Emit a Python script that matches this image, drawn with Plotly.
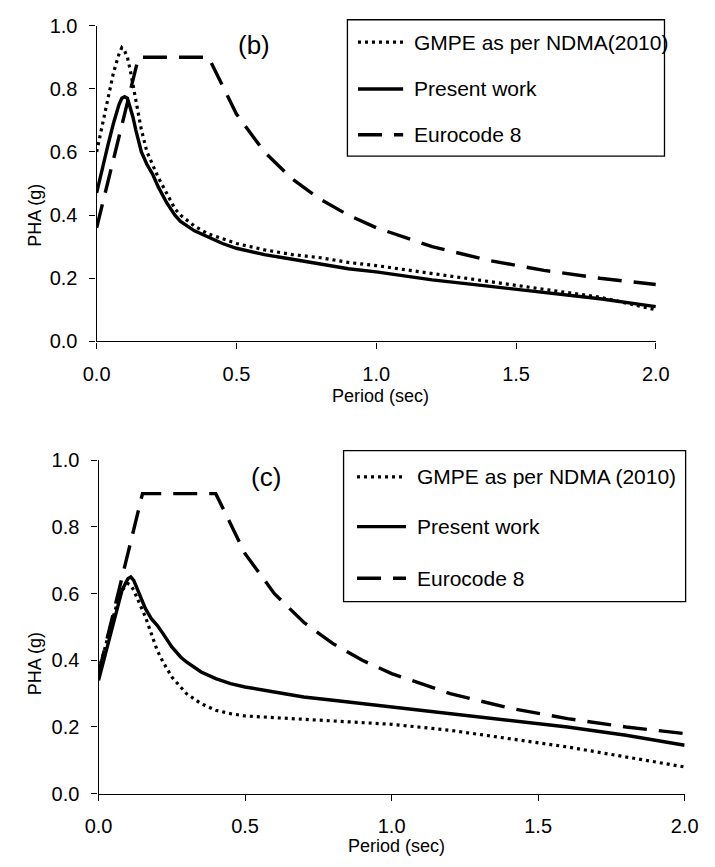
import plotly.graph_objects as go

# ---- data -----------------------------------------------------------------
# Eurocode 8 design spectrum (same in both panels)
period_ec8 = [0.0, 0.15, 0.40, 0.50, 0.60, 0.70, 0.80, 0.90, 1.00, 1.20, 1.40, 1.60, 1.80, 2.00]
pha_ec8 = [0.36, 0.90, 0.90, 0.72, 0.60, 0.514, 0.45, 0.40, 0.36, 0.30, 0.257, 0.225, 0.20, 0.18]

# panel (b)
period_b = [0.0, 0.02, 0.04, 0.06, 0.08, 0.09, 0.10, 0.11, 0.12, 0.13, 0.14, 0.16, 0.18, 0.20,
            0.22, 0.25, 0.28, 0.30, 0.35, 0.40, 0.45, 0.50, 0.60, 0.70, 0.80, 0.90, 1.00,
            1.20, 1.40, 1.60, 1.80, 2.00]
gmpe_b = [0.60, 0.68, 0.77, 0.85, 0.91, 0.93, 0.92, 0.90, 0.86, 0.81, 0.76, 0.67, 0.60, 0.56,
          0.52, 0.47, 0.42, 0.40, 0.365, 0.34, 0.325, 0.31, 0.29, 0.275, 0.265, 0.25, 0.24,
          0.215, 0.19, 0.165, 0.14, 0.10]
present_b = [0.47, 0.55, 0.62, 0.69, 0.75, 0.77, 0.775, 0.77, 0.74, 0.71, 0.67, 0.60, 0.56, 0.53,
             0.49, 0.44, 0.40, 0.38, 0.35, 0.33, 0.31, 0.295, 0.275, 0.26, 0.245, 0.23, 0.22,
             0.195, 0.175, 0.155, 0.135, 0.11]

# panel (c)
period_c = [0.0, 0.02, 0.04, 0.06, 0.08, 0.10, 0.11, 0.12, 0.14, 0.16, 0.18, 0.20, 0.22, 0.25,
            0.28, 0.30, 0.35, 0.40, 0.45, 0.50, 0.60, 0.70, 0.80, 0.90, 1.00, 1.20, 1.40,
            1.60, 1.80, 2.00]
gmpe_c = [0.37, 0.43, 0.50, 0.56, 0.61, 0.63, 0.625, 0.61, 0.57, 0.53, 0.48, 0.43, 0.395, 0.35,
          0.32, 0.30, 0.27, 0.25, 0.24, 0.233, 0.228, 0.223, 0.22, 0.215, 0.208, 0.19, 0.165,
          0.14, 0.11, 0.08]
present_c = [0.34, 0.41, 0.48, 0.55, 0.61, 0.645, 0.65, 0.64, 0.60, 0.555, 0.525, 0.505, 0.48, 0.44,
             0.41, 0.395, 0.365, 0.345, 0.33, 0.32, 0.305, 0.29, 0.28, 0.27, 0.26, 0.24, 0.22,
             0.20, 0.175, 0.145]

x_ticks = [0.0, 0.5, 1.0, 1.5, 2.0]
y_ticks = [0.0, 0.2, 0.4, 0.6, 0.8, 1.0]
legend_b = ["GMPE as per NDMA(2010)", "Present work", "Eurocode 8"]
legend_c = ["GMPE as per NDMA (2010)", "Present work", "Eurocode 8"]

# ---- styling ----------------------------------------------------------------
W, H = 715, 867
FONT = "Arial, Liberation Sans, sans-serif"
DOT = dict(color="black", width=3.2, dash="3px,4px")
SOLID = dict(color="black", width=3.4)
DASH = dict(color="black", width=3.4, dash="24px,12px")
STYLES = [DOT, SOLID, DASH]


def px(x):
    return x / W


def py(y):
    return 1 - y / H


fig = go.Figure()

panels = [
    ("x", "y", period_b, gmpe_b, present_b),
    ("x2", "y2", period_c, gmpe_c, present_c),
]
for xa, ya, per, gm, pr in panels:
    fig.add_trace(go.Scatter(x=per, y=gm, mode="lines", line=DOT, xaxis=xa, yaxis=ya,
                             showlegend=False, hoverinfo="skip"))
    fig.add_trace(go.Scatter(x=per, y=pr, mode="lines", line=SOLID, xaxis=xa, yaxis=ya,
                             showlegend=False, hoverinfo="skip"))
    fig.add_trace(go.Scatter(x=period_ec8, y=pha_ec8, mode="lines", line=DASH, xaxis=xa,
                             yaxis=ya, showlegend=False, hoverinfo="skip"))

axis_common = dict(showline=True, linecolor="black", linewidth=1.3, ticks="outside",
                   ticklen=6, tickwidth=1.3, tickcolor="black", showgrid=False,
                   zeroline=False, tickfont=dict(family=FONT, size=20, color="black"),
                   tickformat=".1f")

fig.update_layout(
    width=W, height=H,
    margin=dict(l=0, r=0, t=0, b=0),
    paper_bgcolor="white", plot_bgcolor="white",
    font=dict(family=FONT, color="black"),
    xaxis=dict(domain=[px(86), px(668)], range=[0, 2], tickvals=x_ticks, anchor="y",
               ticklabelstandoff=8, **axis_common),
    yaxis=dict(domain=[py(339), py(15)], range=[0, 1], tickvals=y_ticks, anchor="x",
               ticklabelstandoff=8, **axis_common),
    xaxis2=dict(domain=[px(88), px(698)], range=[0, 2], tickvals=x_ticks, anchor="y2",
                ticklabelstandoff=8, **axis_common),
    yaxis2=dict(domain=[py(803), py(461)], range=[0, 1], tickvals=y_ticks, anchor="x2",
                ticklabelstandoff=8, **axis_common),
)

shapes = []
annotations = []

# legend boxes: (box left, top, right, bottom, sample x0, x1, text x, row centres, labels)
legend_boxes = [
    (347, 9, 677, 149, 358, 405, 414, [32, 80, 127], legend_b),
    (343, 451, 699, 606, 357, 408, 417, [478, 529, 582], legend_c),
]
for x0, y0, x1, y1, sx0, sx1, tx, rows, labels in legend_boxes:
    shapes.append(dict(type="rect", xref="paper", yref="paper", x0=px(x0), x1=px(x1),
                       y0=py(y1), y1=py(y0), line=dict(color="black", width=1.3),
                       fillcolor="white", layer="below"))
    for yc, style, label in zip(rows, STYLES, labels):
        shapes.append(dict(type="line", xref="paper", yref="paper", x0=px(sx0), x1=px(sx1),
                           y0=py(yc), y1=py(yc), line=style))
        annotations.append(dict(text=label, xref="paper", yref="paper", x=px(tx), y=py(yc),
                                xanchor="left", yanchor="middle", showarrow=False,
                                font=dict(family=FONT, size=21, color="black")))

# panel tags
for tag, xc, yc in [("(b)", 250, 35), ("(c)", 262, 478)]:
    annotations.append(dict(text=tag, xref="paper", yref="paper", x=px(xc), y=py(yc),
                            xanchor="center", yanchor="middle", showarrow=False,
                            font=dict(family=FONT, size=26, color="black")))

# axis titles
for text, xc, yc, ang in [("Period (sec)", 381, 395, 0), ("Period (sec)", 398, 857, 0),
                          ("PHA (g)", 22, 210, -90), ("PHA (g)", 22, 670, -90)]:
    annotations.append(dict(text=text, xref="paper", yref="paper", x=px(xc), y=py(yc),
                            xanchor="center", yanchor="middle", showarrow=False,
                            textangle=ang, font=dict(family=FONT, size=18, color="black")))

fig.update_layout(shapes=shapes, annotations=annotations)

fig.write_html("out.html")
